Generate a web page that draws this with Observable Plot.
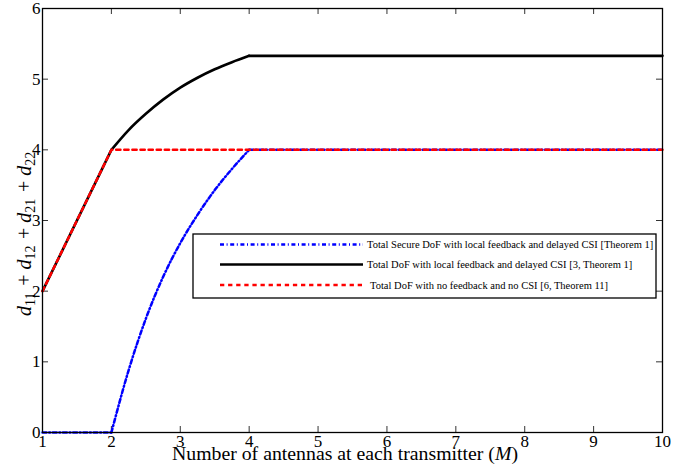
<!DOCTYPE html>
<html><head><meta charset="utf-8">
<script src="https://cdn.jsdelivr.net/npm/d3@7"></script>
<script src="https://cdn.jsdelivr.net/npm/@observablehq/plot@0.6"></script>
<style>body{margin:0;background:#fff}#chart{width:683px;height:466px}
#chart svg text{font-family:"Liberation Serif",serif !important}</style>
</head><body><div id="chart"></div>
<script>
// ---- data ----
const xTicks = [1, 2, 3, 4, 5, 6, 7, 8, 9, 10];
const yTicks = [0, 1, 2, 3, 4, 5, 6];
const secureM   = [1, 2, 2.25, 2.5, 2.75, 3, 3.25, 3.5, 3.75, 4, 10];
const secureDoF = [0, 0, 0.88, 1.61, 2.2, 2.68, 3.08, 3.43, 3.73, 4, 4];
const localM    = [1, 2, 2.25, 2.5, 2.75, 3, 3.25, 3.5, 3.75, 4, 10];
const localDoF  = [2, 4, 4.28, 4.51, 4.71, 4.88, 5.02, 5.14, 5.24, 5.33, 5.33];
const noFbM     = [1, 2, 10];
const noFbDoF   = [2, 4, 4];
const seriesNames = [
  "Total Secure DoF with local feedback and delayed CSI [Theorem 1]",
  "Total DoF with local feedback and delayed CSI [3, Theorem 1]",
  "Total DoF with no feedback and no CSI [6, Theorem 11]"
];

// ---- styles ----
const serif = "Liberation Serif";
const styles = [
  {stroke: "#0000ff", strokeWidth: 2.5, dash: "4,2.6,1,2.6"},
  {stroke: "#000000", strokeWidth: 2.6, dash: null},
  {stroke: "#ff0000", strokeWidth: 2.5, dash: "4.3,3.8"}
];
const W = 683, H = 466, mL = 42, mR = 21, mT = 8, mB = 34;
const innerW = W - mL - mR, innerH = H - mT - mB, tk = 6;
const rows = (xs, ys) => xs.map((m, i) => ({m, v: ys[i]}));
const lineOpts = (s, curve) => ({x: "m", y: "v", stroke: s.stroke, strokeWidth: s.strokeWidth,
  strokeDasharray: s.dash || undefined, curve});
// split a series into linear outer parts and a smooth middle part (2 <= M <= 4)
const mid = r => r.filter(d => d.m >= 2 && d.m <= 4);
const lo = r => r.filter(d => d.m <= 2);
const hi = r => r.filter(d => d.m >= 4);
const secure = rows(secureM, secureDoF), local = rows(localM, localDoF), noFb = rows(noFbM, noFbDoF);

const plot = Plot.plot({
  width: W, height: H, marginLeft: mL, marginRight: mR, marginTop: mT, marginBottom: mB,
  x: {domain: [1, 10]}, y: {domain: [0, 6]},
  style: {fontFamily: serif, fontSize: "17px", color: "black", background: "white", overflow: "visible"},
  marks: [
    Plot.axisX(xTicks, {tickSize: 0, tickPadding: 2, label: null, tickFormat: d => d, fontSize: 17}),
    Plot.axisY(yTicks, {tickSize: 0, tickPadding: 2, label: null, tickFormat: d => d, fontSize: 17}),
    Plot.tickX(xTicks, {x: d => d, insetTop: innerH - tk, stroke: "#333"}),
    Plot.tickX(xTicks, {x: d => d, insetBottom: innerH - tk, stroke: "#333"}),
    Plot.tickY(yTicks, {y: d => d, insetRight: innerW - tk, stroke: "#333"}),
    Plot.tickY(yTicks, {y: d => d, insetLeft: innerW - tk, stroke: "#333"}),
    Plot.line(lo(local), lineOpts(styles[1], "linear")),
    Plot.line(mid(local), lineOpts(styles[1], "monotone-x")),
    Plot.line(hi(local), lineOpts(styles[1], "linear")),
    Plot.line(lo(secure), lineOpts(styles[0], "linear")),
    Plot.line(mid(secure), lineOpts(styles[0], "monotone-x")),
    Plot.line(hi(secure), lineOpts(styles[0], "linear")),
    Plot.line(noFb, lineOpts(styles[2], "linear")),
    Plot.frame({stroke: "black", strokeWidth: 1.3})
  ]
});
document.getElementById("chart").appendChild(plot);

const svg = d3.select(plot);
svg.selectAll("text").style("font-family", serif);
// x axis title
const xt = svg.append("text").attr("x", 345).attr("y", 460).attr("text-anchor", "middle")
  .attr("font-family", serif).attr("font-size", 19.8).attr("fill", "black");
xt.append("tspan").text("Number of antennas at each transmitter (");
xt.append("tspan").attr("font-style", "italic").text("M");
xt.append("tspan").text(")");

// y axis title (rotated math)
const yt = svg.append("text").attr("transform", "translate(31,233) rotate(-90)")
  .attr("text-anchor", "middle").attr("font-family", serif).attr("font-size", 20).attr("fill", "black");
const subs = ["11", "12", "21", "22"];
subs.forEach((s, i) => {
  if (i > 0) yt.append("tspan").text(" + ");
  yt.append("tspan").attr("font-style", "italic").text("d");
  yt.append("tspan").attr("font-size", 14).attr("dy", 4).text(s);
  yt.append("tspan").attr("dy", -4).text("\u200a");
});

// legend
const lg = svg.append("g").attr("transform", "translate(193,234)");
lg.append("rect").attr("width", 463).attr("height", 64).attr("fill", "white")
  .attr("stroke", "black").attr("stroke-width", 1.3);
const rowY = [10.5, 30.5, 51];
const textX = [174, 174, 177];
seriesNames.forEach((name, i) => {
  const s = styles[i];
  lg.append("line").attr("x1", 27).attr("x2", 170).attr("y1", rowY[i]).attr("y2", rowY[i])
    .attr("stroke", s.stroke).attr("stroke-width", s.strokeWidth)
    .attr("stroke-dasharray", s.dash);
  lg.append("text").attr("x", textX[i]).attr("y", rowY[i]).attr("dy", "0.35em")
    .attr("text-anchor", "start")
    .attr("font-family", serif).attr("font-size", 10.5).attr("fill", "black").text(name);
});
</script>
</body></html>
